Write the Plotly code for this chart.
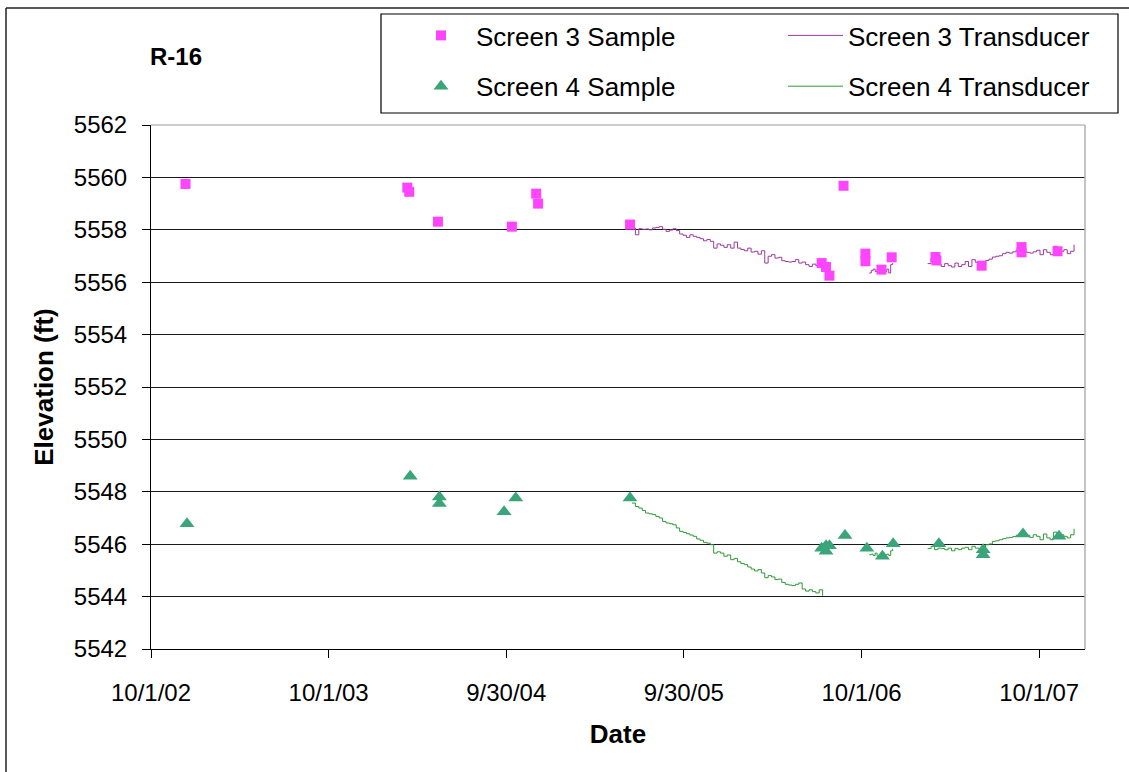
import pandas as pd
import plotly.graph_objects as go

# ---- manual water-level samples (date, elevation ft) ----
s3_dates = ["2002-12-11", "2004-03-11", "2004-03-15", "2004-05-13", "2004-10-12",
            "2004-12-01", "2004-12-05", "2005-06-12", "2006-07-11", "2006-07-20",
            "2006-07-27", "2006-08-25", "2006-10-09", "2006-10-09", "2006-11-11",
            "2006-12-02", "2007-03-02", "2007-03-04", "2007-06-05", "2007-08-26",
            "2007-08-26", "2007-11-08"]
s3_values = [5559.75, 5559.61, 5559.45, 5558.31, 5558.12,
             5559.38, 5559.00, 5558.20, 5556.73, 5556.58,
             5556.25, 5559.68, 5557.09, 5556.80, 5556.48,
             5556.95, 5556.96, 5556.83, 5556.63, 5557.34,
             5557.14, 5557.18]

s4_dates = ["2002-12-14", "2004-03-17", "2004-05-16", "2004-05-16", "2004-09-26",
            "2004-10-20", "2005-06-12", "2006-07-11", "2006-07-20", "2006-07-20",
            "2006-07-27", "2006-08-28", "2006-10-12", "2006-11-13", "2006-12-05",
            "2007-03-09", "2007-06-08", "2007-06-08", "2007-08-29", "2007-11-11"]
s4_values = [5546.78, 5548.59, 5547.80, 5547.55, 5547.24,
             5547.76, 5547.76, 5545.85, 5545.73, 5545.94,
             5545.94, 5546.33, 5545.85, 5545.54, 5546.02,
             5546.02, 5545.79, 5545.60, 5546.39, 5546.30]

# ---- transducer records, three deployment periods each ----
# (start date, spacing in days, readings)
s3_trans_periods = [
    ("2005-06-16", 7, [5558.07, 5557.81, 5558.04, 5558.02, 5558.03, 5558.00, 5558.07, 5558.09,
                       5558.12, 5558.02, 5557.94, 5557.99, 5558.04, 5557.97, 5557.84, 5557.79,
                       5557.71, 5557.81, 5557.75, 5557.71, 5557.66, 5557.58, 5557.63, 5557.56,
                       5557.30, 5557.46, 5557.41, 5557.33, 5557.43, 5557.30, 5557.53, 5557.30,
                       5557.25, 5557.20, 5557.30, 5557.15, 5557.18, 5557.07, 5557.20, 5556.73,
                       5556.99, 5557.05, 5556.92, 5556.95, 5556.82, 5556.79, 5556.77, 5556.79,
                       5556.86, 5556.73, 5556.77, 5556.67, 5556.60, 5556.69, 5556.64, 5556.79]),
    ("2006-10-17", 4, [5556.35, 5556.45, 5556.50, 5556.41, 5556.48, 5556.45, 5556.50, 5556.45,
                       5556.41, 5556.50, 5556.35, 5556.67, 5556.73]),
    ("2007-02-14", 7, [5556.71, 5556.92, 5556.79, 5556.67, 5556.60, 5556.71, 5556.63, 5556.58,
                       5556.73, 5556.60, 5556.67, 5556.79, 5556.60, 5556.86, 5556.76, 5556.73,
                       5556.63, 5556.83, 5556.88, 5556.96, 5556.99, 5557.01, 5557.09, 5557.14,
                       5557.11, 5557.16, 5557.22, 5557.24, 5557.18, 5557.14, 5557.11, 5557.16,
                       5557.22, 5557.05, 5557.24, 5557.14, 5557.05, 5557.37, 5557.11, 5557.18,
                       5557.24, 5557.09, 5557.18, 5557.43]),
]
s4_trans_periods = [
    ("2005-06-16", 7, [5547.57, 5547.44, 5547.38, 5547.29, 5547.19, 5547.16, 5547.13, 5547.06,
                       5547.00, 5546.87, 5546.81, 5546.78, 5546.74, 5546.62, 5546.49, 5546.45,
                       5546.40, 5546.35, 5546.30, 5546.20, 5546.15, 5546.07, 5546.04, 5545.98,
                       5545.66, 5545.71, 5545.66, 5545.54, 5545.59, 5545.41, 5545.46, 5545.33,
                       5545.26, 5545.22, 5545.13, 5545.05, 5544.98, 5545.03, 5544.90, 5544.72,
                       5544.80, 5544.75, 5544.65, 5544.67, 5544.54, 5544.47, 5544.44, 5544.42,
                       5544.47, 5544.52, 5544.29, 5544.21, 5544.26, 5544.19, 5544.14, 5544.26,
                       5544.03]),
    ("2006-10-17", 4, [5545.60, 5545.62, 5545.57, 5545.66, 5545.54, 5545.60, 5545.57, 5545.54,
                       5545.60, 5545.62, 5545.57, 5545.75, 5545.83]),
    ("2007-02-14", 7, [5545.83, 5545.92, 5545.79, 5545.85, 5545.83, 5545.79, 5545.85, 5545.75,
                       5545.83, 5545.79, 5545.85, 5545.88, 5545.79, 5545.92, 5545.85, 5545.83,
                       5545.88, 5545.98, 5546.01, 5546.11, 5546.13, 5546.17, 5546.21, 5546.24,
                       5546.26, 5546.29, 5546.34, 5546.36, 5546.30, 5546.34, 5546.26, 5546.36,
                       5546.30, 5546.17, 5546.39, 5546.24, 5546.17, 5546.46, 5546.26, 5546.36,
                       5546.30, 5546.24, 5546.36, 5546.59]),
]

# axis ticks every 365.25 days starting 10/1/02
tick_dates = ["2002-10-01", "2003-10-01 06:00", "2004-09-30 12:00",
              "2005-09-30 18:00", "2006-10-01", "2007-10-01 06:00"]
tick_labels = ["10/1/02", "10/1/03", "9/30/04", "9/30/05", "10/1/06", "10/1/07"]
x_range = ["2002-10-01", "2008-01-03 12:00"]
y_range = [5542, 5562]


def join_periods(periods):
    """Concatenate deployment periods, separated by gaps."""
    xs, ys = [], []
    for start, step, vals in periods:
        d = pd.date_range(start=start, periods=len(vals), freq=f"{step}D")
        xs += list(d.strftime("%Y-%m-%d")) + [None]
        ys += list(vals) + [None]
    return xs, ys


FONT = "Liberation Sans, Arial, sans-serif"
C_S3, C_S4 = "#ff44ff", "#3aa57a"
C_T3, C_T4 = "#9a3b9e", "#2f9a35"

fig = go.Figure()
t3x, t3y = join_periods(s3_trans_periods)
t4x, t4y = join_periods(s4_trans_periods)

fig.add_trace(go.Scatter(x=t3x, y=t3y, mode="lines", name="Screen 3 Transducer",
                         line=dict(color=C_T3, width=1, shape="hv"),
                         legend="legend2", legendgroup="t3", connectgaps=False))
fig.add_trace(go.Scatter(x=t4x, y=t4y, mode="lines", name="Screen 4 Transducer",
                         line=dict(color=C_T4, width=1, shape="hv"),
                         legend="legend2", legendgroup="t4", connectgaps=False))
fig.add_trace(go.Scatter(x=s3_dates, y=s3_values, mode="markers", name="Screen 3 Sample",
                         marker=dict(symbol="square", size=10, color=C_S3),
                         legend="legend", legendgroup="s3"))
fig.add_trace(go.Scatter(x=s4_dates, y=s4_values, mode="markers", name="Screen 4 Sample",
                         marker=dict(symbol="triangle-up", size=13, color=C_S4),
                         legend="legend", legendgroup="s4"))

W, H = 1129, 772
L, R, T, B = 151, 44, 125, 123
pw, ph = W - L - R, H - T - B


def px(xp):
    return (xp - L) / pw


def py(yp):
    return (H - B - yp) / ph


legend_common = dict(font=dict(family=FONT, size=26, color="black"),
                     bgcolor="rgba(0,0,0,0)", borderwidth=0,
                     tracegroupgap=14, xanchor="left", yanchor="top",
                     traceorder="grouped")

fig.update_layout(
    width=W, height=H,
    margin=dict(l=L, r=R, t=T, b=B),
    paper_bgcolor="white", plot_bgcolor="white",
    font=dict(family=FONT, size=24, color="black"),
    showlegend=True,
    legend=dict(x=px(406), y=py(12), itemwidth=60, **legend_common),
    legend2=dict(x=px(783), y=py(12), itemwidth=55, **legend_common),
    xaxis=dict(type="date", range=x_range, tickvals=tick_dates, ticktext=tick_labels,
               showgrid=False, showline=True, linecolor="black", linewidth=1,
               ticks="outside", ticklen=8, tickcolor="black", tickwidth=1,
               ticklabelstandoff=14, tickfont=dict(size=24),
               title=dict(text="<b>Date</b>", font=dict(size=26), standoff=20),
               zeroline=False),
    yaxis=dict(range=y_range, dtick=2, tick0=5542,
               showgrid=True, gridcolor="#1a1a1a", gridwidth=1,
               showline=True, linecolor="black", linewidth=1,
               ticks="outside", ticklen=8, tickcolor="black", tickwidth=1,
               ticklabelstandoff=10, tickfont=dict(size=24), tickformat="d",
               title=dict(text="<b>Elevation (ft)</b>", font=dict(size=26), standoff=12),
               zeroline=False),
    annotations=[dict(text="<b>R-16</b>", x=px(176), y=py(57), xref="paper", yref="paper",
                      showarrow=False, font=dict(family=FONT, size=24, color="black"),
                      xanchor="center", yanchor="middle")],
    shapes=[
        # plot-area frame (top and right edges)
        dict(type="line", xref="paper", yref="paper", x0=0, x1=1, y0=1, y1=1,
             line=dict(color="#9a9a9a", width=1), layer="above"),
        dict(type="line", xref="paper", yref="paper", x0=1, x1=1, y0=0, y1=1,
             line=dict(color="#b0b0b0", width=1.5), layer="above"),
        # legend box
        dict(type="rect", xref="paper", yref="paper", x0=px(381), x1=px(1118),
             y0=py(113), y1=py(14), line=dict(color="black", width=1.2),
             fillcolor="rgba(0,0,0,0)"),
        # chart frame
        dict(type="line", xref="paper", yref="paper", x0=px(6), x1=px(6),
             y0=py(8), y1=py(780), line=dict(color="#222222", width=1.5)),
        dict(type="line", xref="paper", yref="paper", x0=px(6), x1=px(1140),
             y0=py(8), y1=py(8), line=dict(color="#222222", width=1.5)),
    ],
)

fig.write_html("out.html")
